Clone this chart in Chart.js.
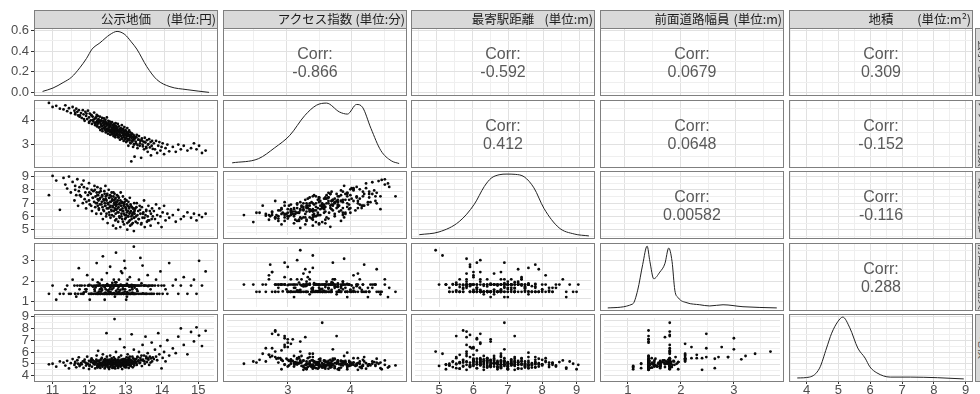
<!DOCTYPE html>
<html>
<head>
<meta charset="utf-8">
<script src="https://cdn.jsdelivr.net/npm/chart.js@4.4.1/dist/chart.umd.min.js"></script>
<style>
  body { margin:0; width:980px; height:394px; background:#fff; position:relative; overflow:hidden; }
  canvas { position:absolute; }
  .frame { position:absolute; box-sizing:border-box; border:1px solid #7f7f7f; pointer-events:none; }
  .strip { position:absolute; box-sizing:border-box; background:#d9d9d9; border:1px solid #7f7f7f;
           font-family:"Noto Sans CJK JP", sans-serif; color:#1a1a1a; font-size:12.5px; line-height:16px; white-space:nowrap; }
  .strip .name { position:absolute; left:0; right:0; text-align:center; }
  .strip .unit { position:absolute; right:1px; }
  .rstrip { position:absolute; box-sizing:border-box; background:#d9d9d9; border:1px solid #7f7f7f; width:18px;
            font-family:"Noto Sans CJK JP", sans-serif; color:#4d4d4d; font-size:11px;
            -webkit-font-smoothing:antialiased; overflow:hidden;
            writing-mode:vertical-rl; text-orientation:sideways; text-align:center; line-height:16px; }
  .corr { position:absolute; text-align:center; font-family:"Liberation Sans", Arial, sans-serif;
          font-size:16px; line-height:18px; color:#5a5a5a; }
</style>
</head>
<body>
<script>
// ---- data (log values, one entry per parcel) ----
const landPrice = [
  10.90, 11.00, 11.10, 11.20,
  11.30, 11.35, 11.40, 11.45, 11.50, 11.55, 11.60, 11.62, 11.65, 11.68, 11.70, 11.72, 11.74,
  11.78, 11.80, 11.83, 11.85, 11.88, 11.90, 11.92, 11.95, 11.97, 12.00, 12.00, 12.02, 12.05, 12.07,
  12.08, 12.10, 12.12, 12.14, 12.15, 12.17, 12.18, 12.20, 12.21, 12.22, 12.23, 12.24, 12.24, 12.25,
  12.26, 12.27, 12.28, 12.30, 12.31, 12.32, 12.33, 12.35, 12.36, 12.37, 12.38, 12.40, 12.41, 12.42,
  12.43, 12.44, 12.45, 12.46, 12.47, 12.48, 12.49, 12.50, 12.51, 12.52, 12.53, 12.54, 12.55, 12.56,
  12.57, 12.58, 12.59, 12.60, 12.61, 12.62, 12.63, 12.64, 12.65, 12.66, 12.67, 12.68, 12.69, 12.70,
  12.70, 12.71, 12.72, 12.72, 12.73, 12.73, 12.74, 12.74, 12.75, 12.75,
  12.76, 12.77, 12.78, 12.79, 12.80, 12.81, 12.82, 12.83, 12.84, 12.85, 12.86, 12.87, 12.88, 12.89,
  12.90, 12.91, 12.92, 12.93, 12.94, 12.95, 12.96, 12.97, 12.98, 12.99, 13.00, 13.01, 13.02, 13.03,
  13.04, 13.05, 13.06, 13.07, 13.08, 13.09, 13.10, 13.11, 13.12, 13.13, 13.14, 13.15, 13.16, 13.17,
  13.18, 13.19, 13.20, 13.21, 13.22, 13.23, 13.24, 13.24, 13.25, 13.25,
  13.27, 13.29, 13.31, 13.33, 13.35, 13.37, 13.39, 13.41, 13.43, 13.45, 13.47, 13.49, 13.51, 13.53,
  13.55, 13.57, 13.59, 13.61, 13.63, 13.65, 13.67, 13.69, 13.70, 13.72, 13.73, 13.75,
  13.78, 13.81, 13.84, 13.87, 13.90, 13.93, 13.96, 13.99, 14.02, 14.06, 14.10, 14.15, 14.20,
  14.30, 14.38, 14.45, 14.52, 14.60, 14.70,
  14.80, 14.88, 14.95, 15.02, 15.10, 15.20,
  // core of the cloud
  11.62, 11.75, 11.86, 11.93, 12.01, 12.06, 12.11, 12.16, 12.19, 12.23,
  12.27, 12.29, 12.32, 12.34, 12.36, 12.39, 12.41, 12.43, 12.45, 12.46,
  12.48, 12.50, 12.51, 12.53, 12.55, 12.56, 12.58, 12.59, 12.61, 12.62,
  12.64, 12.65, 12.67, 12.68, 12.69, 12.71, 12.72, 12.74, 12.75, 12.77,
  12.78, 12.80, 12.81, 12.83, 12.84, 12.86, 12.87, 12.89, 12.90, 12.92,
  12.93, 12.95, 12.96, 12.98, 12.99, 13.01, 13.02, 13.04, 13.05, 13.07,
  13.08, 13.10, 13.12, 13.13, 13.15, 13.17, 13.19, 13.21, 13.23, 13.25,
  13.28, 13.30, 13.33, 13.36, 13.40, 13.44, 13.48, 13.52, 13.57, 13.62
];
const accessIndex = [
  4.72, 4.55, 4.60, 4.48,
  4.45, 4.62, 4.38, 4.50, 4.30, 4.55, 4.40, 4.25, 4.48, 4.35, 4.20, 4.42, 4.15,
  4.30, 4.10, 4.42, 4.25, 3.98, 4.35, 4.18, 4.05, 4.40, 4.12, 3.90, 4.28, 4.00, 4.20,
  3.85, 4.15, 3.95, 4.32, 4.05, 3.80, 4.10, 3.92, 4.22, 3.75, 4.00, 3.88, 4.18, 3.95,
  4.05, 3.70, 3.92, 4.15, 3.60, 3.85, 4.00, 3.75, 4.10, 3.55, 3.90, 3.80, 4.08, 3.65,
  3.95, 3.72, 4.02, 3.50, 3.88, 3.78, 4.12, 3.62, 3.85, 3.45, 3.98, 3.70, 3.82, 3.58,
  3.95, 3.40, 3.75, 3.88, 3.52, 3.68, 3.92, 3.48, 3.80, 3.60, 3.35, 3.72, 3.85, 3.55,
  3.42, 3.78, 3.65, 3.30, 3.88, 3.50, 3.68, 3.40, 3.75, 3.58,
  3.70, 3.45, 3.60, 3.85, 3.30, 3.55, 3.75, 3.40, 3.62, 3.20, 3.50, 3.68, 3.35, 3.58,
  3.80, 3.25, 3.48, 3.65, 3.38, 3.15, 3.55, 3.72, 3.42, 3.28, 3.60, 3.45, 3.10, 3.52,
  3.35, 3.68, 3.22, 3.48, 2.95, 3.40, 3.58, 3.18, 3.32, 3.50, 3.05, 3.38, 2.30, 3.28,
  3.45, 3.12, 3.30, 2.90, 3.40, 3.20, 3.35, 3.00, 3.25, 2.50,
  3.30, 3.05, 3.40, 2.85, 3.20, 3.35, 2.95, 3.15, 2.45, 3.25, 3.00, 3.12, 2.80, 3.28,
  3.08, 2.90, 3.18, 2.70, 3.02, 3.22, 2.88, 3.10, 2.55, 2.95, 3.15, 2.82,
  3.05, 2.80, 3.15, 2.65, 2.95, 3.10, 2.75, 2.90, 3.05, 2.60, 2.85, 3.00, 2.72,
  2.90, 2.70, 3.00, 2.80, 2.95, 2.75,
  2.85, 3.05, 2.80, 2.95, 2.65, 2.75,
  4.30, 4.20, 4.05, 4.28, 3.95, 4.22, 4.02, 3.88, 4.12, 3.82,
  4.00, 3.72, 3.95, 3.80, 3.65, 3.98, 3.70, 3.85, 3.58, 3.92,
  3.66, 3.80, 3.55, 3.88, 3.62, 3.75, 3.50, 3.82, 3.60, 3.42,
  3.70, 3.55, 3.78, 3.48, 3.65, 3.40, 3.72, 3.52, 3.62, 3.38,
  3.68, 3.50, 3.30, 3.58, 3.42, 3.65, 3.35, 3.52, 3.25, 3.45,
  3.60, 3.32, 3.48, 3.20, 3.40, 3.55, 3.28, 3.42, 3.15, 3.35,
  3.50, 3.22, 3.38, 3.08, 3.30, 3.45, 3.18, 3.32, 3.02, 3.25,
  3.12, 3.30, 2.98, 3.20, 3.05, 3.18, 2.92, 3.10, 2.85, 3.00
];
const stationDist = [
  7.60, 9.05, 8.70, 6.50,
  8.90, 8.40, 8.10, 9.00, 7.80, 8.60, 7.20, 8.30, 7.60, 8.80, 6.80, 7.90, 8.20,
  7.50, 8.40, 7.00, 8.70, 7.30, 7.80, 6.60, 8.10, 7.60, 7.20, 8.50, 6.90, 7.70, 8.00,
  6.40, 7.40, 7.90, 7.10, 8.30, 6.70, 7.50, 6.20, 7.80, 7.00, 8.20, 7.30, 6.80, 7.60,
  7.20, 6.50, 7.80, 6.90, 7.40, 8.10, 6.20, 7.10, 7.60, 6.70, 5.80, 7.30, 6.40, 7.90,
  7.00, 6.80, 8.30, 7.50, 6.00, 7.20, 6.60, 7.70, 5.50, 7.00, 6.90, 8.00, 6.30, 7.40,
  6.70, 7.60, 5.90, 7.10, 6.50, 7.80, 6.10, 7.30, 6.80, 5.30, 7.50, 6.40, 7.20, 6.90,
  7.70, 6.60, 5.70, 7.00, 6.20, 7.40, 6.80, 5.10, 7.10, 6.50,
  6.90, 7.60, 6.30, 7.20, 5.60, 6.70, 7.40, 6.00, 7.00, 6.50, 5.20, 7.80, 6.80, 6.20,
  7.10, 5.80, 6.60, 7.50, 6.40, 7.00, 5.40, 6.90, 6.10, 7.30, 6.70, 5.90, 6.50, 7.20,
  6.30, 5.00, 6.80, 6.00, 7.10, 5.60, 6.60, 6.20, 7.40, 5.30, 6.90, 6.40, 6.00, 5.80,
  6.70, 6.10, 5.50, 6.60, 6.30, 4.90, 7.00, 5.90, 6.50, 6.20,
  6.60, 6.00, 7.00, 5.50, 6.40, 5.80, 6.80, 6.20, 5.40, 6.70, 5.90, 6.30, 7.20, 5.20,
  6.10, 6.50, 5.60, 6.00, 6.80, 5.70, 6.40, 5.30, 6.20, 5.80, 6.60, 6.00,
  6.40, 5.80, 6.90, 6.10, 5.50, 6.60, 6.00, 5.20, 6.30, 6.80, 5.70, 6.20, 5.90,
  6.10, 5.60, 6.50, 5.80, 6.00, 6.30,
  5.90, 6.20, 5.70, 6.10, 5.95, 6.20,
  8.00, 7.60, 8.20, 7.10, 7.80, 6.80, 7.40, 8.00, 7.00, 7.60,
  6.60, 7.30, 7.90, 6.90, 7.50, 6.50, 7.20, 7.70, 6.80, 7.30,
  6.20, 7.60, 7.00, 6.60, 7.40, 6.10, 7.10, 6.80, 7.50, 6.40,
  7.20, 6.70, 7.80, 6.00, 7.00, 6.50, 7.30, 6.80, 5.80, 7.10,
  6.60, 7.50, 6.30, 6.90, 5.90, 7.20, 6.50, 6.00, 7.00, 6.40,
  5.60, 6.80, 6.20, 7.10, 5.80, 6.60, 6.10, 6.90, 5.50, 6.40,
  6.00, 6.70, 5.70, 6.30, 6.80, 5.40, 6.20, 6.60, 5.90, 6.40,
  5.60, 6.70, 6.10, 5.80, 6.50, 5.50, 6.20, 5.90, 6.40, 5.70
];
const roadWidth = [
  1.39, 1.79, 1.10, 1.39,
  1.39, 1.61, 1.79, 1.39, 1.39, 2.08, 1.79, 1.39, 1.25, 1.79, 1.39, 2.64, 1.61,
  1.39, 1.79, 1.39, 1.39, 1.79, 1.61, 1.50, 2.30, 1.79, 1.39, 1.79, 1.10, 1.39, 1.79,
  1.39, 2.08, 1.39, 1.79, 1.61, 1.39, 1.70, 1.39, 2.89, 1.79, 1.39, 1.95, 1.39, 1.79,
  1.39, 1.79, 1.39, 1.61, 1.79, 1.39, 1.50, 2.08, 1.79, 1.39, 3.22, 1.79, 1.39, 1.39,
  1.10, 1.79, 1.39, 1.61, 1.79, 1.39, 2.40, 1.39, 1.79, 1.39, 1.79, 1.50, 1.39, 1.79,
  1.39, 2.71, 1.70, 1.79, 1.39, 1.79, 1.61, 1.39, 1.79, 1.39, 1.79, 2.08, 1.39, 1.79,
  1.39, 1.25, 1.79, 1.95, 1.95, 1.79, 1.39, 3.40, 1.79, 1.39,
  1.39, 1.79, 1.39, 1.61, 1.79, 1.39, 2.08, 1.50, 1.79, 1.39, 1.79, 1.39, 2.48, 1.39,
  1.79, 2.40, 1.79, 1.61, 1.39, 1.79, 1.39, 3.00, 1.79, 2.64, 1.79, 1.39, 1.10, 1.79,
  1.25, 1.79, 2.08, 1.39, 1.79, 1.39, 1.79, 1.39, 2.20, 1.39, 1.79, 1.39, 1.79, 1.70,
  1.79, 1.61, 1.39, 1.79, 1.39, 3.69, 1.79, 1.39, 1.79, 1.39,
  1.79, 1.39, 1.61, 1.79, 1.39, 2.08, 1.79, 3.14, 1.79, 1.39, 2.77, 1.79, 1.39, 1.79,
  1.39, 1.79, 1.39, 2.30, 1.79, 1.39, 1.79, 1.61, 1.39, 1.79, 1.39, 1.79,
  1.39, 1.79, 2.08, 1.39, 1.79, 1.39, 2.48, 1.79, 1.39, 1.79, 1.61, 1.39, 2.89,
  1.79, 2.08, 1.39, 1.79, 2.20, 1.39,
  1.79, 2.08, 1.39, 3.00, 1.79, 2.48,
  1.39, 1.79, 1.46, 1.61, 1.83, 1.39, 1.74, 1.52, 1.79, 1.41,
  1.50, 1.88, 1.39, 1.66, 1.57, 1.79, 1.39, 1.70, 1.44, 1.79,
  1.39, 1.86, 1.55, 1.79, 1.39, 1.61, 1.76, 1.48, 1.79, 1.39,
  1.92, 1.39, 1.68, 1.42, 1.79, 1.39, 1.81, 1.53, 1.95, 1.39,
  1.79, 1.46, 1.72, 1.39, 1.79, 1.58, 1.84, 1.39, 1.79, 1.43,
  1.65, 1.39, 1.79, 1.50, 1.61, 1.79, 1.39, 1.87, 1.47, 1.79,
  1.39, 1.74, 1.56, 1.79, 1.39, 1.82, 1.45, 1.79, 1.39, 1.69,
  1.39, 1.79, 1.52, 1.79, 1.39, 1.90, 1.41, 1.79, 1.39, 1.76
];
const lotArea = [
  4.95, 5.00, 4.75, 5.20,
  5.10, 4.85, 5.25, 4.60, 5.05, 5.40, 4.90, 5.15, 4.70, 5.30, 5.00, 5.55, 4.80,
  5.05, 4.95, 5.20, 4.65, 5.35, 5.10, 4.85, 5.60, 5.00, 4.55, 5.25, 4.90, 5.15, 5.45,
  4.75, 5.30, 5.05, 4.95, 5.20, 4.60, 5.10, 5.35, 5.70, 4.85, 5.00, 5.25, 4.70, 6.10,
  5.00, 4.80, 5.25, 5.10, 4.65, 5.35, 4.95, 5.50, 5.05, 4.75, 5.80, 5.20, 4.90, 5.15,
  4.60, 5.40, 5.00, 4.85, 5.30, 7.60, 5.60, 4.95, 5.10, 4.70, 5.25, 5.05, 4.55, 5.35,
  5.00, 5.70, 4.80, 5.15, 4.90, 5.45, 5.05, 4.65, 5.20, 4.95, 5.30, 5.55, 5.00, 8.80,
  4.75, 5.10, 5.35, 4.60, 5.25, 5.05, 4.85, 6.00, 5.15, 4.95,
  5.00, 5.20, 4.80, 5.35, 4.65, 5.10, 5.55, 4.90, 5.25, 7.10, 5.05, 4.75, 5.70, 5.00,
  5.30, 4.55, 5.15, 4.95, 5.40, 5.05, 4.80, 6.40, 5.20, 4.70, 5.35, 5.00, 4.85, 5.55,
  5.10, 4.90, 5.80, 5.25, 5.00, 4.65, 5.40, 5.15, 5.60, 4.95, 5.30, 4.80, 5.10, 7.50,
  5.25, 5.05, 4.70, 5.45, 5.00, 6.20, 5.15, 4.85, 5.35, 5.20,
  5.10, 5.40, 4.90, 5.60, 5.20, 6.00, 5.05, 5.50, 5.30, 4.80, 6.60, 5.25, 5.70, 5.00,
  7.30, 5.45, 5.15, 5.90, 5.35, 4.90, 5.60, 5.10, 5.45, 6.80, 5.20, 5.55,
  5.40, 6.20, 5.60, 5.30, 7.60, 5.80, 6.50, 4.60, 5.50, 6.00, 5.20, 7.00, 5.70,
  6.30, 5.90, 7.30, 8.00, 6.60, 5.80,
  7.70, 6.90, 8.10, 7.40, 6.50, 7.80,
  5.05, 4.90, 5.20, 5.00, 4.80, 5.30, 5.10, 4.95, 5.15, 4.70,
  5.25, 5.00, 4.85, 5.40, 5.10, 4.90, 5.30, 5.05, 4.75, 5.20,
  5.00, 5.35, 4.85, 5.15, 5.00, 4.70, 5.25, 5.05, 4.90, 5.30,
  5.10, 4.80, 5.20, 5.00, 4.65, 5.40, 5.05, 4.90, 5.25, 5.00,
  5.15, 4.75, 5.30, 5.05, 4.85, 5.20, 5.00, 5.35, 4.90, 5.10,
  5.25, 4.80, 5.05, 5.40, 5.00, 5.15, 4.70, 5.30, 5.05, 4.90,
  5.50, 5.20, 4.85, 5.35, 5.00, 5.25, 5.60, 5.10, 4.95, 5.40,
  5.20, 5.05, 5.55, 5.30, 5.10, 5.70, 5.35, 5.20, 5.60, 5.45
];

// kernel density curves
const densPriceX   = [10.72, 11.0, 11.27, 11.5, 11.72, 11.9, 12.05, 12.26, 12.53, 12.72, 12.93, 13.1, 13.25, 13.52, 13.79, 14.14, 14.6, 15.19];
const densPriceY   = [0.012, 0.045, 0.097, 0.15, 0.24, 0.33, 0.42, 0.48, 0.56, 0.59, 0.56, 0.49, 0.42, 0.25, 0.125, 0.058, 0.029, 0.003];
const densAccessX  = [2.17, 2.57, 2.82, 3.05, 3.28, 3.46, 3.61, 3.81, 3.93, 4.07, 4.16, 4.29, 4.44, 4.60, 4.72];
const densAccessY  = [0.03, 0.09, 0.25, 0.43, 0.72, 0.87, 0.90, 0.77, 0.74, 0.88, 0.84, 0.53, 0.21, 0.06, 0.02];
const densStationX = [4.53, 5.08, 5.64, 6.06, 6.34, 6.53, 6.75, 6.97, 7.2, 7.45, 7.72, 8.0, 8.42, 8.84, 9.25];
const densStationY = [0.009, 0.029, 0.104, 0.23, 0.36, 0.42, 0.445, 0.45, 0.448, 0.43, 0.35, 0.2, 0.059, 0.014, 0.0];
const densRoadX    = [0.69, 1.14, 1.23, 1.32, 1.40, 1.45, 1.52, 1.63, 1.72, 1.79, 1.85, 1.90, 1.96, 2.12, 2.35, 2.53, 2.77, 3.13, 3.74];
const densRoadY    = [0.0, 0.1, 0.45, 1.1, 1.57, 1.18, 0.74, 0.91, 1.12, 1.52, 1.18, 0.45, 0.26, 0.13, 0.08, 0.05, 0.08, 0.03, 0.0];
const densAreaX    = [3.71, 4.09, 4.41, 4.63, 4.79, 4.98, 5.14, 5.36, 5.61, 5.84, 5.99, 6.21, 6.63, 7.26, 8.11, 8.94];
const densAreaY    = [0.014, 0.027, 0.16, 0.46, 0.68, 0.85, 0.92, 0.76, 0.46, 0.31, 0.18, 0.09, 0.027, 0.027, 0.018, 0.0];

const varNames  = ["公示地価", "アクセス指数", "最寄駅距離", "前面道路幅員", "地積"];
const varUnits  = ["(単位:円)", "(単位:分)", "(単位:m)", "(単位:m)", "(単位:m²)"];
// correlations shown in the upper panels, row by row
const corrValues = ["-0.866", "-0.592", "0.0679", "0.309", "0.412", "0.0648", "-0.152", "0.00582", "-0.116", "0.288"];

// ---- layout ----
const colLeft = [34, 223, 411, 600, 789];
const rowTop  = [28, 100, 171, 243, 314];
const panelW = 184, panelH = 68;
const varRange = [[10.49, 15.43], [2.03, 4.84], [4.3, 9.42], [0.55, 3.87], [3.45, 9.23]];
const densRange = [-0.032, 0.623];   // y scale of the top row
const GRID_MAJOR = '#e1e1e1', GRID_MINOR = '#efefef';

Chart.defaults.font.family = '"Liberation Sans", Arial, sans-serif';
Chart.defaults.animation = false;

const vars = [landPrice, accessIndex, stationDist, roadWidth, lotArea];
const dens = [[densPriceX, densPriceY], [densAccessX, densAccessY], [densStationX, densStationY],
              [densRoadX, densRoadY], [densAreaX, densAreaY]];

function isMajor(v, major) {
  const q = v / major;
  return Math.abs(q - Math.round(q)) < 1e-6;
}

function axis(range, minor, major, showTicks, isX, fitSize) {
  return {
    type: 'linear', min: range[0], max: range[1], position: isX ? 'bottom' : 'left',
    border: { display: false },
    grid: {
      color: c => isMajor(c.tick.value, major) ? GRID_MAJOR : GRID_MINOR,
      lineWidth: 1,
      drawTicks: showTicks,
      tickLength: isX ? 2 : 3,
      tickColor: c => isMajor(c.tick.value, major) ? '#333333' : 'rgba(0,0,0,0)'
    },
    ticks: {
      display: showTicks, stepSize: minor, includeBounds: false, autoSkip: false, maxRotation: 0,
      padding: isX ? 0 : 2, color: '#4d4d4d', font: { size: 13, lineHeight: 1 },
      callback: v => isMajor(v, major) ? (major < 1 ? v.toFixed(1) : String(Math.round(v))) : ''
    },
    afterFit: s => {
      if (isX) s.height = fitSize; else s.width = fitSize;
      s.paddingLeft = 0; s.paddingRight = 0; s.paddingTop = 0; s.paddingBottom = 0;
    }
  };
}

const n = Math.min(...vars.map(v => v.length));
let corrIdx = 0;

for (let r = 0; r < 5; r++) {
  for (let c = 0; c < 5; c++) {
    const padT = c === 0 ? 8 : 0;
    const padB = (c === 0 && r < 4) ? 8 : 0;
    const xH = r === 4 ? 12 : 0;
    const yW = c === 0 ? colLeft[0] : 0;
    const cv = document.createElement('canvas');
    cv.width = panelW + yW;
    cv.height = panelH + padT + padB + xH;
    cv.style.left = (colLeft[c] - yW) + 'px';
    cv.style.top = (rowTop[r] - padT) + 'px';
    document.body.appendChild(cv);

    const scales = {
      x: axis(varRange[c], 0.5, 1, r === 4, true, xH),
      y: r === 0 ? axis(densRange, 0.1, 0.2, c === 0, false, yW)
                 : axis(varRange[r], 0.5, 1, c === 0, false, yW)
    };
    const datasets = [];
    if (r > c) {
      const xs = vars[c], ys = vars[r];
      const pts = [];
      for (let i = 0; i < n; i++) pts.push({ x: xs[i], y: ys[i] });
      datasets.push({ data: pts, pointRadius: 1.4, pointBackgroundColor: '#0a0a0a', pointBorderWidth: 0 });
    } else if (r === c) {
      const [dx, dy] = dens[r];
      const pts = dx.map((x, i) => ({ x: x, y: dy[i] }));
      const ds = { data: pts, showLine: true, pointRadius: 0, borderColor: '#222', borderWidth: 1,
                   cubicInterpolationMode: 'monotone' };
      if (r > 0) {
        const m = Math.max(...dy);
        scales.yd = { type: 'linear', position: 'left', display: false, min: -0.05 * m, max: 1.05 * m };
        ds.yAxisID = 'yd';
      }
      datasets.push(ds);
    }

    new Chart(cv, {
      type: 'scatter',
      data: { datasets },
      options: {
        responsive: false, maintainAspectRatio: false, animation: false,
        layout: { padding: { top: padT, bottom: padB, left: 0, right: 0 } },
        plugins: { legend: { display: false }, tooltip: { enabled: false } },
        scales
      }
    });

    const fr = document.createElement('div');
    fr.className = 'frame';
    fr.style.cssText = `left:${colLeft[c]}px;top:${rowTop[r]}px;width:${panelW}px;height:${panelH}px`;
    document.body.appendChild(fr);

    if (r < c) {
      const t = document.createElement('div');
      t.className = 'corr';
      t.style.cssText = `left:${colLeft[c]}px;width:${panelW}px;top:${rowTop[r] + panelH / 2 - 17}px`;
      t.innerHTML = 'Corr:<br>' + corrValues[corrIdx++];
      document.body.appendChild(t);
    }
  }
}

// top strips
for (let c = 0; c < 5; c++) {
  const s = document.createElement('div');
  s.className = 'strip';
  s.style.cssText = `left:${colLeft[c]}px;top:10px;width:${panelW}px;height:19px`;
  s.innerHTML = `<span class="name">${varNames[c]}</span><span class="unit">${varUnits[c]}</span>`;
  document.body.appendChild(s);
}
// right strips (mostly cut off by the picture edge)
for (let r = 0; r < 5; r++) {
  const s = document.createElement('div');
  s.className = 'rstrip';
  s.style.cssText = `left:975px;top:${rowTop[r]}px;height:${panelH}px`;
  s.textContent = varNames[r];
  document.body.appendChild(s);
}
</script>
</body>
</html>
